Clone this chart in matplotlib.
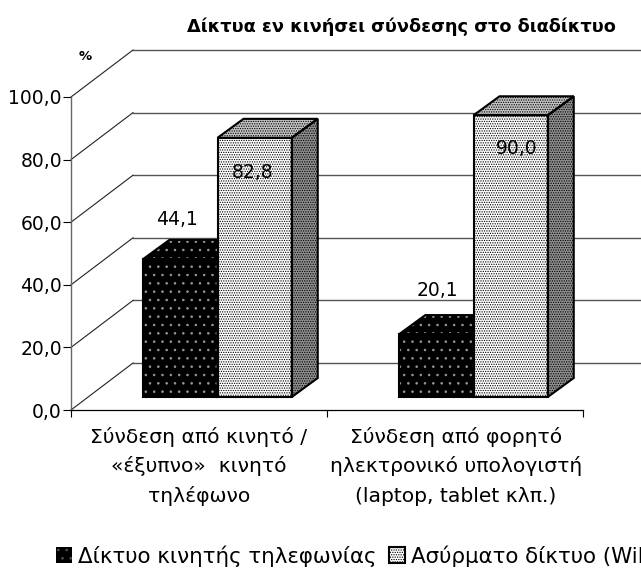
import matplotlib
matplotlib.use("Agg")
import matplotlib.pyplot as plt
from matplotlib.patches import Polygon, Patch
from matplotlib.transforms import Affine2D

plt.rcParams['font.family'] = ['DejaVu Sans']
plt.rcParams['hatch.linewidth'] = 0.6

title = "Δίκτυα εν κινήσει σύνδεσης στο διαδίκτυο"
categories = ["Σύνδεση από κινητό /\n«έξυπνο»  κινητό\nτηλέφωνο",
              "Σύνδεση από φορητό\nηλεκτρονικό υπολογιστή\n(laptop, tablet κλπ.)"]
series_names = ["Δίκτυο κινητής τηλεφωνίας", "Ασύρματο δίκτυο (WiFi)"]
mobile_values = [44.1, 20.1]
wifi_values = [82.8, 90.0]
yticks = [0, 20, 40, 60, 80, 100]

W, H = 641, 568
fig = plt.figure(figsize=(W/100, H/100), dpi=100, facecolor='white')
L, R, B, T = 71, 583, H-410, H-97
ax = fig.add_axes([L/W, B/H, (R-L)/W, (T-B)/H])
ax.set_xlim(0, 2); ax.set_ylim(0, 100)
ax.patch.set_visible(False)
for s in ('top', 'right'):
    ax.spines[s].set_visible(False)
ax.spines['left'].set_linewidth(1.0)
ax.spines['left'].set_color('#666666')
ax.spines['bottom'].set_linewidth(0.9)

ax.set_yticks(yticks, [f"{v:.1f}".replace('.', ',') for v in yticks], fontsize=13.5)
ax.set_xticks([0, 1, 2], [''] * 3)
ax.tick_params(axis='y', length=5.5, width=0.8, pad=1)
ax.tick_params(axis='x', length=5, width=0.8)

BACK = (62, 47)
back_tr = ax.transData + Affine2D().translate(*BACK)
xmax = 2.5
for v in yticks:
    ax.plot([0, xmax], [v, v], color='#555555', lw=1.0, transform=back_tr, clip_on=False, zorder=1)
    p0 = ax.transData.transform((0, v))
    ax.plot([p0[0], p0[0]+BACK[0]], [p0[1], p0[1]+BACK[1]], color='#222222', lw=0.8,
            transform=None, clip_on=False, zorder=1)

FRONT = (18.5, 13)
DEPTH = (26, 19)
width = 0.29


def bar3d(x, v, fc, hatch, hc, topc, sidec, ec, z):
    fx = ax.transData.transform
    a = fx((x, 0)) + FRONT
    b = fx((x + width, v)) + FRONT
    d = DEPTH
    front = [(a[0], a[1]), (b[0], a[1]), (b[0], b[1]), (a[0], b[1])]
    top = [(a[0], b[1]), (b[0], b[1]), (b[0]+d[0], b[1]+d[1]), (a[0]+d[0], b[1]+d[1])]
    side = [(b[0], a[1]), (b[0]+d[0], a[1]+d[1]), (b[0]+d[0], b[1]+d[1]), (b[0], b[1])]
    for pts, c, h in ((side, sidec, hatch), (top, topc, hatch), (front, fc, hatch)):
        fig.add_artist(Polygon(pts, closed=True, transform=None, facecolor=c, edgecolor=hc,
                               hatch=h, lw=0, zorder=z))
        fig.add_artist(Polygon(pts, closed=True, transform=None, fill=False, edgecolor=ec,
                               lw=1.5, joinstyle='miter', zorder=z + 0.1))


for i in range(2):
    bar3d(i + 0.5 - width, mobile_values[i], 'black', '..', '#999999', 'black', 'black', 'black', 3 + i)
    bar3d(i + 0.5, wifi_values[i], 'white', '.......', 'black', '#c4c4c4', '#8f8f8f', 'black', 3.5 + i)


def ftext(px, py, s, **kw):
    return fig.text(px/W, 1 - py/H, s, ha='center', va='center', **kw)


label_m = [(177, 220), (437, 290)]
label_w = [(253, 173), (517, 148)]
for v, p in zip(mobile_values + wifi_values, label_m + label_w):
    ftext(p[0], p[1], f"{v:.1f}".replace('.', ','), fontsize=13.5, zorder=10)

ftext(401, 27, title, fontsize=12.8, fontweight='bold')
ftext(85, 57, "%", fontsize=9.5, fontweight='bold')

for i, cat in enumerate(categories):
    for j, line in enumerate(cat.split('\n')):
        ftext(199 + 257*i, 437 + 29.5*j, line, fontsize=14.6)

handles = [Patch(facecolor='black', edgecolor='#555555', hatch='..', lw=0),
           Patch(facecolor='white', edgecolor='black', hatch='.......', lw=1.5)]
leg = fig.legend(handles, series_names, ncol=2, frameon=False, fontsize=15.4,
                 loc='center left', bbox_to_anchor=(56/W, 1-556/H),
                 handlelength=0.75, handleheight=0.75, handletextpad=0.28,
                 columnspacing=0.6, borderpad=0, borderaxespad=0)

fig.savefig("out.png", dpi=100, facecolor='white')
